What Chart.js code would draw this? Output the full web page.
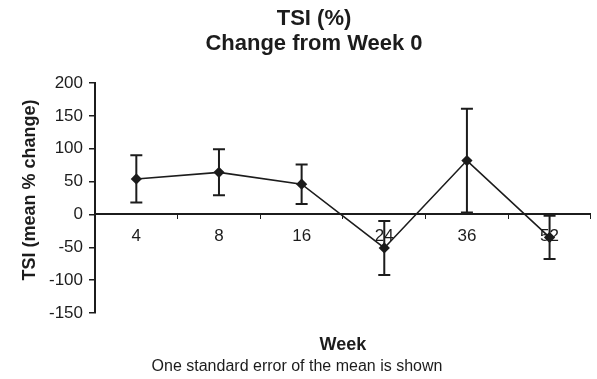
<!DOCTYPE html>
<html>
<head>
<meta charset="utf-8">
<title>TSI (%) Change from Week 0</title>
<script src="https://cdn.jsdelivr.net/npm/chart.js@4.4.1/dist/chart.umd.min.js"></script>
<style>
  html, body { margin: 0; padding: 0; background: #ffffff; }
  #wrap { width: 597px; height: 379px; position: relative; }
</style>
</head>
<body>
<div id="wrap"><canvas id="tsi" width="597" height="379"></canvas></div>
<script>
// Study weeks on the horizontal axis
const weeks = ['4', '8', '16', '24', '36', '52'];
// Mean % change in TSI from week 0
const meanChange = [54, 64, 46, -51, 82, -35];
// One standard error of the mean at each week
const stdError = [36, 35, 30, 41, 79, 33];

const titleLines = ['TSI (%)', 'Change from Week 0'];
const yAxisTitle = 'TSI (mean % change)';
const xAxisTitle = 'Week';
const footnote = 'One standard error of the mean is shown';

const INK = '#1c1c1c';
const FONT = '"Liberation Sans", Arial, Helvetica, sans-serif';

// Vertical error bars with caps, positioned through the chart scales
const errorBars = {
  id: 'errorBars',
  beforeDatasetsDraw(chart) {
    const x = chart.scales.x, y = chart.scales.y, ctx = chart.ctx;
    ctx.save();
    ctx.strokeStyle = INK;
    ctx.lineWidth = 2;
    const cap = 6;
    meanChange.forEach((m, i) => {
      const px = x.getPixelForValue(i);
      const top = y.getPixelForValue(m + stdError[i]);
      const bot = y.getPixelForValue(m - stdError[i]);
      ctx.beginPath();
      ctx.moveTo(px, top); ctx.lineTo(px, bot);
      ctx.moveTo(px - cap, top); ctx.lineTo(px + cap, top);
      ctx.moveTo(px - cap, bot); ctx.lineTo(px + cap, bot);
      ctx.stroke();
    });
    ctx.restore();
  }
};

// Headings, axis titles and the note around the plot
const captions = {
  id: 'captions',
  afterDraw(chart) {
    const ctx = chart.ctx, area = chart.chartArea;
    ctx.save();
    ctx.fillStyle = INK;
    ctx.textAlign = 'center';
    ctx.textBaseline = 'middle';
    ctx.font = 'bold 22px ' + FONT;
    ctx.fillText(titleLines[0], 314, 19);
    ctx.fillText(titleLines[1], 314, 44);
    ctx.font = 'bold 18px ' + FONT;
    ctx.fillText(xAxisTitle, (area.left + area.right) / 2, 345);
    ctx.save();
    ctx.translate(30, 190);
    ctx.rotate(-Math.PI / 2);
    ctx.fillText(yAxisTitle, 0, 0);
    ctx.restore();
    ctx.font = '16px ' + FONT;
    ctx.fillText(footnote, 297, 367);
    ctx.restore();
  }
};

new Chart(document.getElementById('tsi'), {
  type: 'line',
  data: {
    labels: weeks,
    datasets: [{
      data: meanChange,
      borderColor: INK,
      borderWidth: 1.6,
      pointStyle: 'rectRot',
      pointRadius: 4.5,
      pointBackgroundColor: INK,
      pointBorderColor: INK,
      tension: 0
    }]
  },
  options: {
    responsive: false,
    animation: false,
    layout: { padding: { top: 83, bottom: 66, left: 0, right: 0 } },
    plugins: {
      legend: { display: false },
      title: { display: false },
      tooltip: { enabled: false }
    },
    scales: {
      x: {
        type: 'category',
        position: { y: 0 },
        offset: true,
        grid: {
          offset: true,
          drawOnChartArea: false,
          drawTicks: true,
          tickLength: 4,
          color: INK,
          lineWidth: 1
        },
        border: { display: true, color: INK, width: 2 },
        ticks: {
          color: INK,
          font: { family: FONT, size: 17 },
          padding: 8,
          maxRotation: 0
        }
      },
      y: {
        min: -150,
        max: 200,
        afterFit(scale) { scale.width = 95; },
        grid: {
          drawOnChartArea: false,
          drawTicks: true,
          tickLength: 6,
          color: INK,
          lineWidth: 1.5
        },
        border: { display: true, color: INK, width: 2 },
        ticks: {
          stepSize: 50,
          color: INK,
          font: { family: FONT, size: 17 },
          padding: 6
        }
      }
    }
  },
  plugins: [errorBars, captions]
});
</script>
</body>
</html>
